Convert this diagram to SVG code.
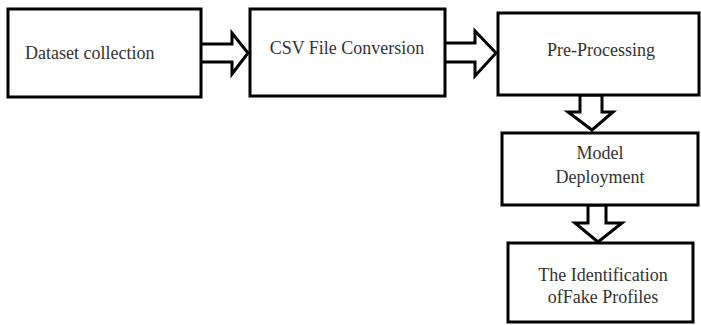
<svg xmlns="http://www.w3.org/2000/svg" width="701" height="325" viewBox="0 0 701 325">
<style>
.box{fill:#fff;stroke:#000;stroke-width:3}
.arr{fill:#fff;stroke:#000;stroke-width:3;stroke-linejoin:miter}
text{font-family:"Liberation Serif","Times New Roman",serif;font-size:18px;fill:#333}
.c{text-anchor:middle}
</style>
<rect width="701" height="325" fill="#fff"/>
<g id="connectors">
<polygon class="arr" points="200,44 232,44 232,33 248,53 232,74 232,62 200,62"/>
<polygon class="arr" points="444,43 475,43 475,31 496,53 475,76 475,62 444,62"/>
<polygon class="arr" points="580,95 602,95 602,112 613,112 592,130 568,112 580,112"/>
<polygon class="arr" points="588,205 606,205 606,223 622,223 598,242 575,223 588,223"/>
</g>
<g id="n1"><rect class="box" x="8" y="9" width="193" height="88"/><text x="25" y="59">Dataset collection</text></g>
<g id="n2"><rect class="box" x="250" y="9" width="195" height="87"/><text class="c" x="347" y="54">CSV File Conversion</text></g>
<g id="n3"><rect class="box" x="498" y="13" width="201" height="82"/><text class="c" x="601" y="56">Pre-Processing</text></g>
<g id="n4"><rect class="box" x="502" y="133" width="196" height="72"/><text class="c" x="600" y="159">Model</text><text class="c" x="600" y="183">Deployment</text></g>
<g id="n5"><rect class="box" x="508" y="243" width="185" height="79"/><text class="c" x="603" y="281">The Identification</text><text class="c" x="603" y="303">ofFake Profiles</text></g>
</svg>
